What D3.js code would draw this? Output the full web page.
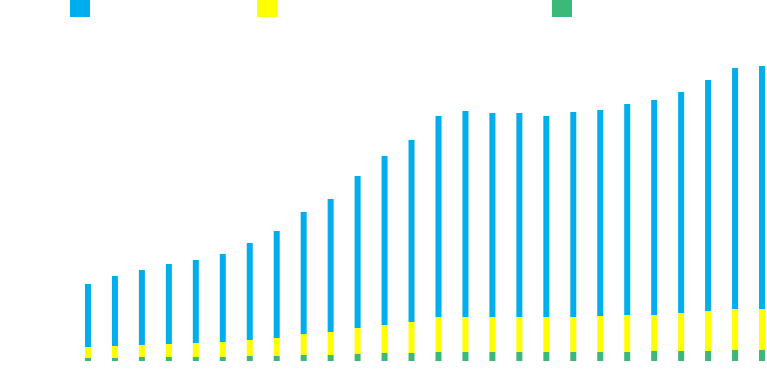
<!DOCTYPE html>
<html>
<head>
<meta charset="utf-8">
<script src="https://cdn.jsdelivr.net/npm/d3@7"></script>
<style>
  html, body { margin: 0; padding: 0; background: #fff; overflow: hidden; }
  svg { display: block; }
</style>
</head>
<body>
<script>
// ---- data ----
const categories = ["1990","1991","1992","1993","1994","1995","1996","1997","1998","1999","2000","2001","2002","2003","2004","2005","2006","2007","2008","2009","2010","2011","2012","2013","2014","2015"];
const seriesNames = ["Series A", "Series B", "Series C"]; // blue, yellow, green
const seriesA = [63,70,75,80,83,88,97,107,122,133,152,169,182,201,206,204,204,201,205,206,211,215,221,231,241,243];
const seriesB = [11,12,12,13,14,15,16,18,21,23,26,28,31,35,35,35,35,35,35,36,37,36,38,40,41,41];
const seriesC = [3,3,4,4,4,4,5,5,6,6,7,8,8,9,9,9,9,9,9,9,9,10,10,10,11,11];
const yMax = 300;

// ---- layout ----
const width = 767, height = 383;
const colors = { "Series A": "#00aeef", "Series B": "#ffff00", "Series C": "#3cb878" };

const rows = categories.map((c, i) => ({
  cat: c,
  "Series A": seriesA[i],
  "Series B": seriesB[i],
  "Series C": seriesC[i]
}));

const svg = d3.select("body").append("svg")
  .attr("width", width).attr("height", height);

const x = d3.scaleBand()
  .domain(categories)
  .range([74.5, 775.5])
  .paddingInner(0.7775)
  .paddingOuter(0.38875);

const y = d3.scaleLinear().domain([0, yMax]).range([361, 61]);

// stack order: green at bottom, then yellow, then blue
const stack = d3.stack().keys(["Series C", "Series B", "Series A"]);
const stacked = stack(rows);

svg.append("g").selectAll("g")
  .data(stacked)
  .join("g")
  .attr("fill", d => colors[d.key])
  .selectAll("rect")
  .data(d => d)
  .join("rect")
  .attr("x", d => x(d.data.cat))
  .attr("width", x.bandwidth())
  .attr("y", d => y(d[1]))
  .attr("height", d => y(d[0]) - y(d[1]));

// legend (squares only, partly above the top edge)
const legendX = [70, 257, 552];
const legend = svg.append("g");
seriesNames.forEach((name, i) => {
  legend.append("rect")
    .attr("x", legendX[i]).attr("y", -3)
    .attr("width", 20).attr("height", 20)
    .attr("fill", colors[name]);
});
</script>
</body>
</html>
